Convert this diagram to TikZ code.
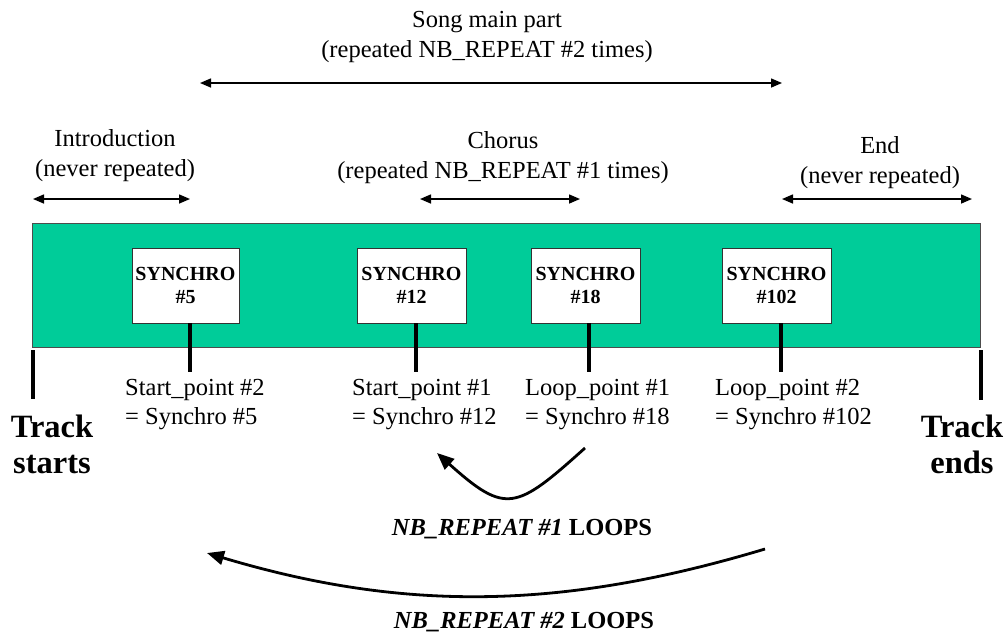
\documentclass[tikz,border=0pt]{standalone}
\usepackage{fontspec}
\setmainfont{Liberation Serif}
\usetikzlibrary{arrows.meta}
\definecolor{trackgreen}{HTML}{00CC99}
\begin{document}
\begin{tikzpicture}[x=1pt,y=-1pt,
  txt/.style={font=\fontsize{24.5}{30}\selectfont, align=center, inner sep=0pt, anchor=base},
  lab/.style={font=\fontsize{24.5}{29}\selectfont, align=left, inner sep=0pt, anchor=base west},
  bigtxt/.style={font=\bfseries\fontsize{32.5}{36}\selectfont, align=center, inner sep=0pt, anchor=base},
  syn/.style={draw=black!80, fill=white, line width=0.8pt, minimum width=107pt, minimum height=75pt, inner sep=0pt, align=center, font=\bfseries\fontsize{20}{23}\selectfont},
  span/.style={line width=1.5pt, {Triangle[length=11pt,width=9pt]}-{Triangle[length=11pt,width=9pt]}},
  loopar/.style={line width=2.8pt, -{Triangle[length=17pt,width=14pt]}},
  stem/.style={line width=4pt},
]
\useasboundingbox (0,0) rectangle (1007,638);

% green track
\node[draw=black!70, line width=0.8pt, fill=trackgreen, minimum width=948pt, minimum height=124pt, inner sep=0pt, anchor=north west] (track) at (32,223) {};

% synchro boxes
\node[syn] (s5) at (185.5,285.5) {SYNCHRO\\\#5};
\node[syn, minimum width=109pt] (s12) at (411.5,285.5) {SYNCHRO\\\#12};
\node[syn, minimum width=109pt] (s18) at (585.5,285.5) {SYNCHRO\\\#18};
\node[syn, minimum width=109pt] (s102) at (776.5,285.5) {SYNCHRO\\\#102};

% stems
\coordinate (p5) at (190,372);
\coordinate (p12) at (416,372);
\coordinate (p18) at (589,372);
\coordinate (p102) at (781,372);
\draw[stem] (s5.south -| p5) -- (p5);
\draw[stem] (s12.south -| p12) -- (p12);
\draw[stem] (s18.south -| p18) -- (p18);
\draw[stem] (s102.south -| p102) -- (p102);

% track start / end marks
\coordinate (ts1) at (33,350); \coordinate (ts2) at (33,399);
\coordinate (te1) at (981,350); \coordinate (te2) at (981,400);
\draw[stem] (ts1) -- (ts2);
\draw[stem] (te1) -- (te2);

% point labels
\node[lab] (l5) at (125,424) {Start\_point \#2\\= Synchro \#5};
\node[lab] (l12) at (352,424) {Start\_point \#1\\= Synchro \#12};
\node[lab] (l18) at (525,424) {Loop\_point \#1\\= Synchro \#18};
\node[lab] (l102) at (715,424) {Loop\_point \#2\\= Synchro \#102};

\node[bigtxt] (tstart) at (52,473) {Track\\starts};
\node[bigtxt] (tend) at (962,473) {Track\\ends};

% top texts
\node[txt] (song) at (487,57) {Song main part\\(repeated NB\_REPEAT \#2 times)};
\node[txt] (intro) at (115,176) {Introduction\\(never repeated)};
\node[txt] (chorus) at (503,178) {Chorus\\(repeated NB\_REPEAT \#1 times)};
\node[txt] (endt) at (880,183) {End\\(never repeated)};

% span arrows
\coordinate (sg1) at (200,83); \coordinate (sg2) at (782,83);
\coordinate (in1) at (33,199); \coordinate (in2) at (190,199);
\coordinate (ch1) at (420,199); \coordinate (ch2) at (580,199);
\coordinate (en1) at (782,199); \coordinate (en2) at (972,199);
\draw[span] (sg1) -- (sg2);
\draw[span] (in1) -- (in2);
\draw[span] (ch1) -- (ch2);
\draw[span] (en1) -- (en2);

% loops
\coordinate (c1s) at (585,448); \coordinate (c1e) at (437,453);
\draw[loopar] (c1s) .. controls (516,510) and (506,515) .. (c1e);
\node[txt] (n1) at (522,535) {\textbf{\textit{NB\_REPEAT \#1}} \textbf{LOOPS}};

\coordinate (c2s) at (765,549); \coordinate (c2e) at (207,553);
\draw[loopar] (c2s) .. controls (565,609) and (407,613) .. (c2e);
\node[txt] (n2) at (524,628) {\textbf{\textit{NB\_REPEAT \#2}} \textbf{LOOPS}};
\end{tikzpicture}
\end{document}
